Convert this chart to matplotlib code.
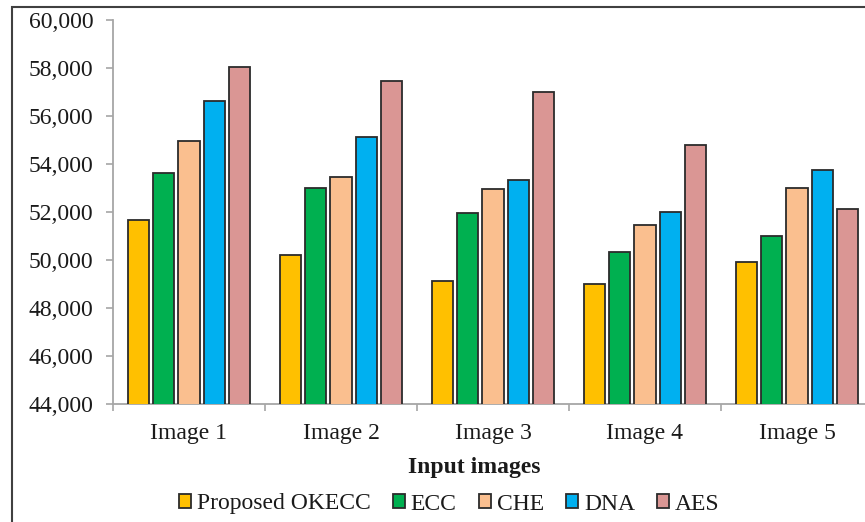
import matplotlib
matplotlib.use("Agg")
import matplotlib.pyplot as plt
import matplotlib.patches as mpatches
from matplotlib.ticker import FuncFormatter
import numpy as np

plt.rcParams['font.family'] = ['Liberation Serif', 'DejaVu Serif']

images = ["Image 1", "Image 2", "Image 3", "Image 4", "Image 5"]
methods = ["Proposed OKECC", "ECC", "CHE", "DNA", "AES"]
colors = ["#FFC000", "#00B050", "#FABF8F", "#00B0F0", "#DA9694"]

okecc = [51670, 50190, 49130, 49000, 49930]
ecc = [53610, 53000, 51940, 50330, 51000]
che = [54940, 53470, 52940, 51470, 53000]
dna = [56610, 55140, 53330, 52000, 53740]
aes = [58060, 57470, 57000, 54810, 52140]
series = [okecc, ecc, che, dna, aes]

fig = plt.figure(figsize=(8.65, 5.22), dpi=100)
ax = fig.add_axes([113 / 865, 1 - 404 / 522, 760 / 865, 384 / 522])

x = np.arange(len(images))
pitch = 0.1667
for i, (vals, col, name) in enumerate(zip(series, colors, methods)):
    ax.bar(x + (i - 2) * pitch, vals, width=0.141, color=col,
           edgecolor="#2b2b2b", linewidth=1.3, label=name, zorder=3)

ax.set_ylim(44000, 60000)
ax.set_yticks(np.arange(44000, 60001, 2000))
ax.yaxis.set_major_formatter(FuncFormatter(lambda v, p: "{:,.0f}".format(v)))
ax.set_xlim(-0.5, 4.5)
ax.set_xticks(x)
ax.set_xticklabels(images)
ax.set_xticks(np.arange(-0.5, 5, 1), minor=True)

for s in ["top", "right"]:
    ax.spines[s].set_visible(False)
for s in ["left", "bottom"]:
    ax.spines[s].set_color("#A6A6A6")
    ax.spines[s].set_linewidth(1.3)

ax.tick_params(axis="y", length=5, width=1.2, color="#A6A6A6", pad=9,
               labelsize=17, labelcolor="#1a1a1a")
ax.tick_params(axis="x", which="major", length=0, pad=14, labelsize=17,
               labelcolor="#1a1a1a")
ax.tick_params(axis="x", which="minor", length=5, width=1.2, color="#A6A6A6")

fig.text(474.5 / 865, 1 - 467 / 522, "Input images", ha="center", va="center",
         fontsize=17, fontweight="bold", color="#1a1a1a")

handles = [mpatches.Patch(facecolor=c, edgecolor="#2b2b2b", linewidth=1.3)
           for c in colors]
fig.legend(handles, methods, loc="center", bbox_to_anchor=(449.5 / 865, 1 - 504 / 522),
           ncol=5, frameon=False, fontsize=17, handlelength=0.5, handleheight=0.5,
           handletextpad=0.25, columnspacing=0.95, borderpad=0, labelcolor="#1a1a1a")

border = mpatches.Rectangle((12 / 865, -0.1), 1.2, 1 - 7 / 522 + 0.1,
                            transform=fig.transFigure, fill=False,
                            edgecolor="#404040", linewidth=1.5)
fig.patches.append(border)

fig.savefig("out.png", dpi=100)
